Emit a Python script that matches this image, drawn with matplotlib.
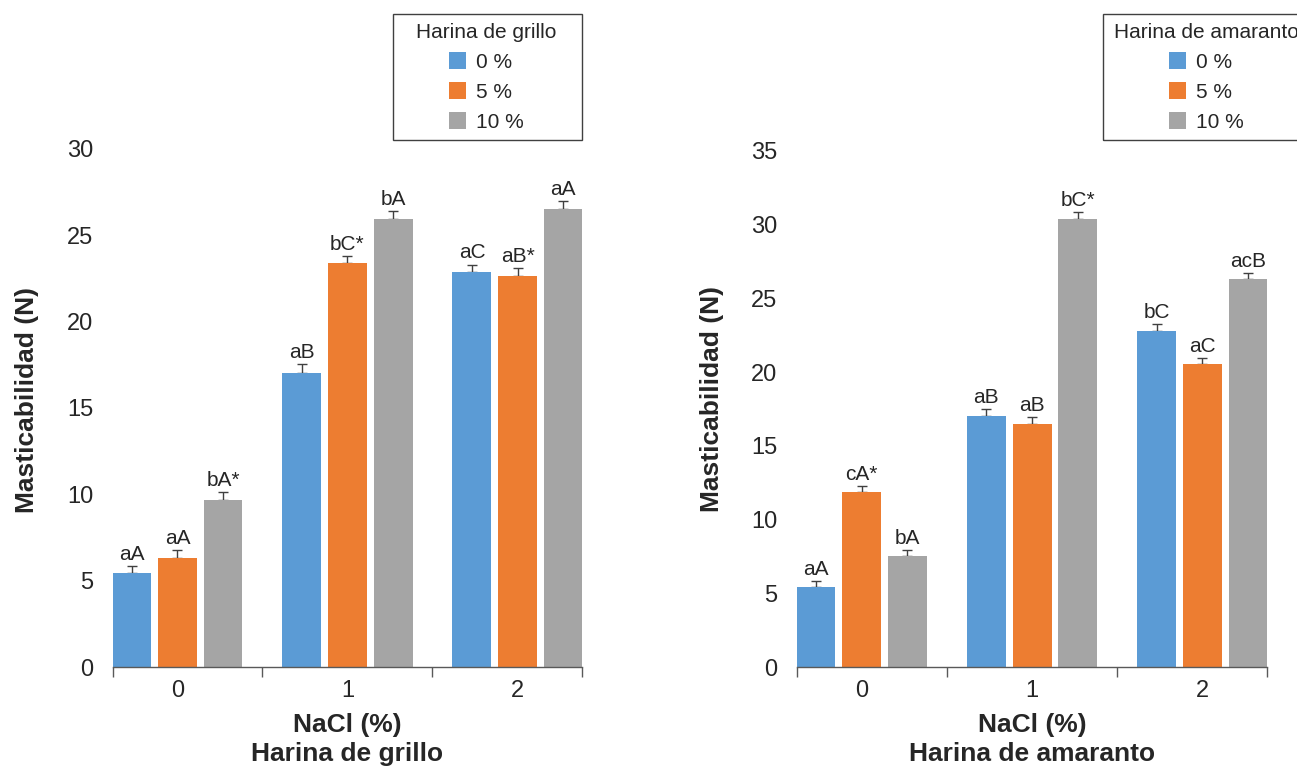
import numpy as np
import matplotlib
matplotlib.use("Agg")
import matplotlib.pyplot as plt
from matplotlib.patches import Patch, Rectangle

plt.rcParams['font.family'] = ['Liberation Sans', 'DejaVu Sans']

nacl = ['0', '1', '2']
series = ['0 %', '5 %', '10 %']
colors = ['#5B9BD5', '#ED7D31', '#A5A5A5']

# Harina de grillo
grillo_vals = [[5.46, 17.05, 22.86],
               [6.33, 23.38, 22.63],
               [9.68, 25.94, 26.52]]
grillo_err = [[0.40, 0.48, 0.45],
              [0.47, 0.44, 0.45],
              [0.44, 0.44, 0.44]]
grillo_lbl = [['aA', 'aB', 'aC'],
              ['aA', 'bC*', 'aB*'],
              ['bA*', 'bA', 'aA']]

# Harina de amaranto
amaranto_vals = [[5.43, 17.01, 22.77],
                 [11.85, 16.46, 20.56],
                 [7.51, 30.37, 26.32]]
amaranto_err = [[0.43, 0.49, 0.50],
                [0.45, 0.47, 0.41],
                [0.45, 0.47, 0.43]]
amaranto_lbl = [['aA', 'aB', 'bC'],
                ['cA*', 'aB', 'aC'],
                ['bA', 'bC*', 'acB']]

text_col = '#262626'
bar_w = 0.229
step = 0.268
half = 0.379


def draw_panel(ax, vals, errs, lbls, ymax, title, ylab_y):
    x = np.arange(len(nacl))
    for i in range(len(series)):
        xi = x + (i - 1) * step
        ax.bar(xi, vals[i], width=bar_w, color=colors[i], zorder=2)
        ax.errorbar(xi, vals[i], yerr=[np.zeros(3), errs[i]], fmt='none',
                    ecolor='#404040', elinewidth=1, capsize=3.3, capthick=1, zorder=1)
        for xx, v, e, t in zip(xi, vals[i], errs[i], lbls[i]):
            ax.annotate(t, (xx, v + e), xytext=(0, 1.5), textcoords='offset points',
                        ha='center', va='bottom', fontsize=15, color=text_col)
    ax.set_xlim(-half, 2 + half)
    ax.set_ylim(0, ymax)
    ax.set_yticks(np.arange(0, ymax + 1, 5))
    ax.set_xticks(x)
    ax.set_xticklabels(nacl)
    ax.set_xticks([-half, 0.5, 1.5, 2 + half], minor=True)
    ax.tick_params(axis='x', which='major', length=0, pad=9, labelsize=17, labelcolor=text_col)
    ax.tick_params(axis='x', which='minor', length=7, width=1, color='#595959', direction='out')
    ax.tick_params(axis='y', length=0, pad=14, labelsize=17, labelcolor=text_col)
    for s in ['top', 'right', 'left']:
        ax.spines[s].set_visible(False)
    ax.spines['bottom'].set_color('#595959')
    ax.spines['bottom'].set_linewidth(1)
    ax.set_xlabel('NaCl (%)\n' + title, fontsize=19, fontweight='bold',
                  color=text_col, linespacing=1.27, labelpad=8)
    ax.set_ylabel('Masticabilidad (N)', fontsize=19, fontweight='bold',
                  color=text_col, labelpad=20)
    ax.yaxis.label.set_y(ylab_y)


W, H = 1297, 768
fig = plt.figure(figsize=(W / 100, H / 100), dpi=100)
ax1 = fig.add_axes([0.0871, 0.1315, 0.3616, 0.6745])
ax2 = fig.add_axes([0.6145, 0.1315, 0.3624, 0.6719])

draw_panel(ax1, grillo_vals, grillo_err, grillo_lbl, 30, 'Harina de grillo', 0.516)
draw_panel(ax2, amaranto_vals, amaranto_err, amaranto_lbl, 35, 'Harina de amaranto', 0.52)

# legend boxes (frame drawn separately to match the fixed-size boxes)
handles = [Patch(facecolor=c) for c in colors]
boxes = [('Harina de grillo', 393, 582, 486),
         ('Harina de amaranto', 1103, 1320, 1206)]
for title, x0, x1, xc in boxes:
    fig.patches.append(Rectangle((x0 / W, 1 - 140 / H), (x1 - x0) / W, 126 / H,
                                 transform=fig.transFigure, fill=False,
                                 edgecolor='#404040', linewidth=1))
    leg = fig.legend(handles, series, title=title, loc='upper center',
                     bbox_to_anchor=(xc / W, 1 - 23 / H), fontsize=15, title_fontsize=15,
                     frameon=False, handlelength=0.85, handleheight=0.85, handletextpad=0.45,
                     labelspacing=0.5, borderpad=0, borderaxespad=0)
    leg.get_title().set_color(text_col)
    for t in leg.get_texts():
        t.set_color(text_col)

fig.savefig('out.png', dpi=100)
